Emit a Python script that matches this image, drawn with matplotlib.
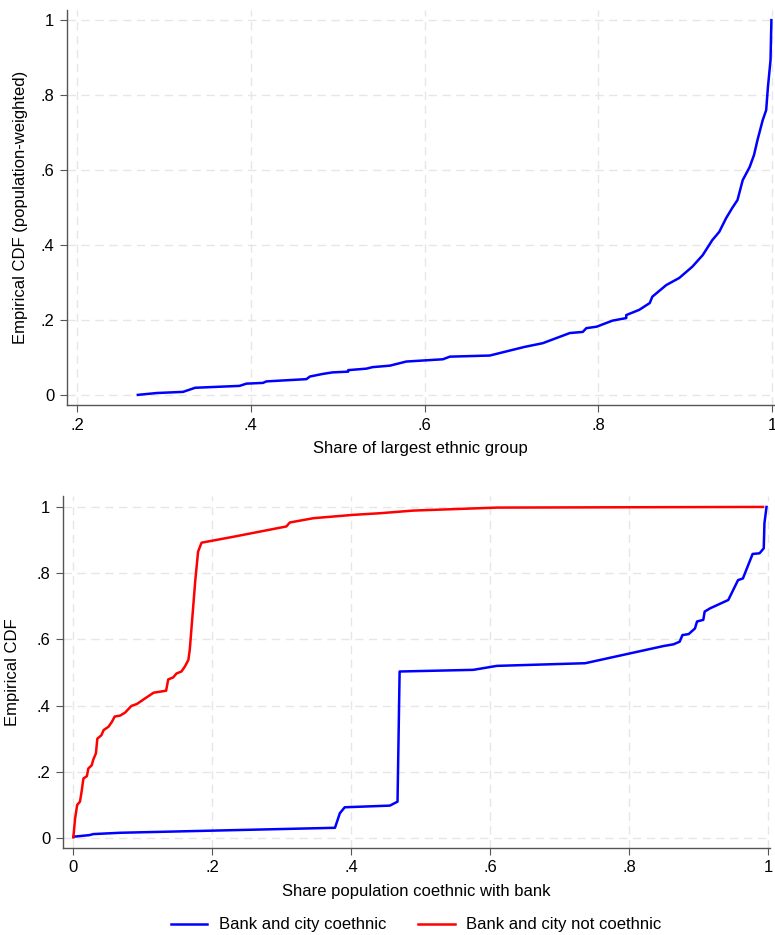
import numpy as np
import matplotlib
matplotlib.use("Agg")
import matplotlib.pyplot as plt

plt.rcParams['font.family'] = ['Liberation Sans', 'DejaVu Sans']

# 上段: 最大民族の割合の経験分布（人口加重）
share_x = [0.270, 0.292, 0.322, 0.336, 0.387, 0.395, 0.414, 0.418, 0.464, 0.468,
           0.483, 0.494, 0.512, 0.512, 0.533, 0.540, 0.560, 0.579, 0.621, 0.629,
           0.675, 0.701, 0.715, 0.736, 0.767, 0.782, 0.786, 0.798, 0.816, 0.832,
           0.832, 0.847, 0.859, 0.862, 0.878, 0.893, 0.908, 0.920, 0.931, 0.939,
           0.947, 0.954, 0.960, 0.966, 0.974, 0.979, 0.983, 0.989, 0.993, 0.995,
           0.998, 0.999]
share_cdf = [0.000, 0.005, 0.008, 0.019, 0.024, 0.030, 0.032, 0.036, 0.042, 0.049,
             0.056, 0.060, 0.062, 0.066, 0.070, 0.074, 0.078, 0.089, 0.095, 0.102,
             0.105, 0.120, 0.128, 0.138, 0.165, 0.168, 0.178, 0.182, 0.198, 0.205,
             0.213, 0.227, 0.245, 0.262, 0.293, 0.312, 0.342, 0.373, 0.413, 0.435,
             0.472, 0.499, 0.520, 0.573, 0.608, 0.640, 0.680, 0.733, 0.760, 0.821,
             0.893, 1.000]

# 下段: 銀行と同民族の人口割合
co_x = [0.0005, 0.024, 0.029, 0.068, 0.377, 0.384, 0.391, 0.456, 0.467, 0.470,
        0.576, 0.610, 0.737, 0.850, 0.864, 0.873, 0.877, 0.886, 0.895, 0.898,
        0.907, 0.909, 0.917, 0.943, 0.957, 0.964, 0.978, 0.988, 0.994, 0.995,
        0.998]
co_cdf = [0.004, 0.009, 0.012, 0.016, 0.031, 0.075, 0.093, 0.098, 0.110, 0.503,
          0.508, 0.520, 0.528, 0.580, 0.585, 0.593, 0.613, 0.616, 0.633, 0.654,
          0.659, 0.684, 0.694, 0.719, 0.779, 0.784, 0.858, 0.860, 0.875, 0.951,
          1.000]

nco_x = [0.0005, 0.003, 0.006, 0.010, 0.012, 0.015, 0.020, 0.022, 0.027, 0.029,
         0.033, 0.035, 0.041, 0.044, 0.051, 0.056, 0.060, 0.068, 0.075, 0.084,
         0.092, 0.099, 0.106, 0.116, 0.134, 0.137, 0.144, 0.149, 0.156, 0.161,
         0.166, 0.168, 0.176, 0.180, 0.185, 0.231, 0.307, 0.312, 0.346, 0.403,
         0.442, 0.490, 0.610, 0.993]
nco_cdf = [0.002, 0.059, 0.100, 0.110, 0.135, 0.180, 0.187, 0.210, 0.220, 0.236,
           0.256, 0.300, 0.311, 0.326, 0.336, 0.351, 0.367, 0.370, 0.379, 0.399,
           0.405, 0.415, 0.425, 0.439, 0.445, 0.479, 0.485, 0.497, 0.503, 0.518,
           0.538, 0.568, 0.779, 0.865, 0.892, 0.910, 0.941, 0.953, 0.966, 0.976,
           0.981, 0.989, 0.998, 1.000]

yticks = [0, 0.2, 0.4, 0.6, 0.8, 1]
ylabels = ['0', '.2', '.4', '.6', '.8', '1']

W, H = 775, 935
fig = plt.figure(figsize=(W/100, H/100), dpi=100)

def style(ax):
    for s in ['top', 'right']:
        ax.spines[s].set_visible(False)
    for s in ['left', 'bottom']:
        ax.spines[s].set_color('#555555')
        ax.spines[s].set_linewidth(1.0)
    ax.tick_params(direction='out', length=5, color='#555555', labelsize=12, pad=4)
    ax.grid(True, color='#e6e6e6', linestyle=(0, (6, 4)), linewidth=1.0)
    ax.set_axisbelow(True)
    ax.set_yticks(yticks)
    ax.set_yticklabels(ylabels)

# 上段
ax1 = fig.add_axes([67/W, 1-405/H, 707/W, 395/H])
ax1.plot(share_x, share_cdf, color='#0000ff', lw=1.8)
ax1.set_xlim(0.1885, 1.002)
ax1.set_ylim(-0.027, 1.027)
ax1.set_xticks([0.2, 0.4, 0.6, 0.8, 1])
ax1.set_xticklabels(['.2', '.4', '.6', '.8', '1'])
style(ax1)
ax1.set_xlabel('Share of largest ethnic group', fontsize=12, labelpad=6)
ax1.set_ylabel('Empirical CDF (population-weighted)', fontsize=12, labelpad=9)

# 下段
ax2 = fig.add_axes([63/W, 1-848/H, 707/W, 352/H])
l1, = ax2.plot(co_x, co_cdf, color='#0000ff', lw=1.8)
l2, = ax2.plot(nco_x, nco_cdf, color='#ff0000', lw=1.8)
ax2.set_xlim(-0.0144, 1.003)
ax2.set_ylim(-0.030, 1.033)
ax2.set_xticks([0, 0.2, 0.4, 0.6, 0.8, 1])
ax2.set_xticklabels(['0', '.2', '.4', '.6', '.8', '1'])
style(ax2)
ax2.set_xlabel('Share population coethnic with bank', fontsize=12, labelpad=6)
ax2.set_ylabel('Empirical CDF', fontsize=12, labelpad=12)

fig.legend([l1, l2], ['Bank and city coethnic', 'Bank and city not coethnic'],
           loc='center', bbox_to_anchor=(416/W, 1-925/H), ncol=2, frameon=False,
           fontsize=12, handlelength=2.2, columnspacing=1.9, handletextpad=0.7)

fig.savefig('out.png', dpi=100, facecolor='white')
